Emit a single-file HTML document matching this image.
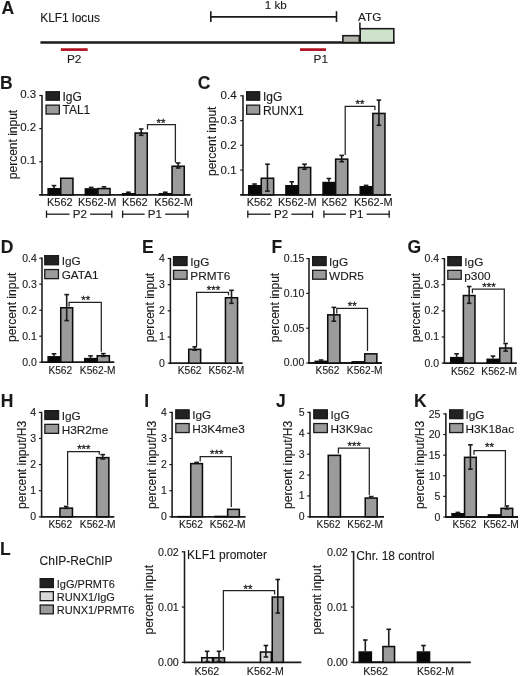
<!DOCTYPE html>
<html><head><meta charset="utf-8"><title>Figure</title>
<style>
html,body{margin:0;padding:0;background:#fff;}
body{width:520px;height:676px;overflow:hidden;font-family:"Liberation Sans",sans-serif;}
svg{display:block;font-family:"Liberation Sans",sans-serif;filter:blur(0.4px);}
text{stroke:#1a1a1a;stroke-width:0.12px;}
</style></head><body>
<svg width="520" height="676" viewBox="0 0 520 676">
<rect x="0" y="0" width="520" height="676" fill="#ffffff"/>
<text x="1.6" y="13.75" font-size="17.5" text-anchor="start" font-weight="bold" fill="#1a1a1a">A</text>
<text x="40.2" y="22.3" font-size="11.95" text-anchor="start" font-weight="normal" fill="#1a1a1a">KLF1 locus</text>
<line x1="40.4" y1="42.6" x2="394.6" y2="42.6" stroke="#1a1a1a" stroke-width="2.5" stroke-linecap="butt"/>
<line x1="60.8" y1="49.6" x2="87.7" y2="49.6" stroke="#b0121e" stroke-width="2.7" stroke-linecap="butt"/>
<text x="74.2" y="63.3" font-size="11.8" text-anchor="middle" font-weight="normal" fill="#1a1a1a">P2</text>
<line x1="300" y1="49.6" x2="326" y2="49.6" stroke="#b0121e" stroke-width="2.7" stroke-linecap="butt"/>
<text x="320.8" y="63.3" font-size="11.8" text-anchor="middle" font-weight="normal" fill="#1a1a1a">P1</text>
<line x1="210.8" y1="16.9" x2="336.5" y2="16.9" stroke="#1a1a1a" stroke-width="1.7" stroke-linecap="butt"/>
<line x1="210.8" y1="11.2" x2="210.8" y2="21.9" stroke="#1a1a1a" stroke-width="1.6" stroke-linecap="butt"/>
<line x1="336.5" y1="11.2" x2="336.5" y2="21.9" stroke="#1a1a1a" stroke-width="1.6" stroke-linecap="butt"/>
<text x="275.8" y="9.2" font-size="11.6" text-anchor="middle" font-weight="normal" fill="#1a1a1a">1 kb</text>
<rect x="342.9" y="35.7" width="16.5" height="6.9" fill="#b4b5ac" stroke="#1a1a1a" stroke-width="1.6"/>
<rect x="360.2" y="28.7" width="33.6" height="13.9" fill="#cfe2cc" stroke="#1a1a1a" stroke-width="1.6"/>
<line x1="359.9" y1="22.4" x2="359.9" y2="29.5" stroke="#1a1a1a" stroke-width="1.5" stroke-linecap="butt"/>
<text x="358" y="20.9" font-size="11.8" text-anchor="start" font-weight="normal" fill="#1a1a1a">ATG</text>
<text x="0" y="88.75" font-size="17.5" text-anchor="start" font-weight="bold" fill="#1a1a1a">B</text>
<line x1="42" y1="94.9" x2="42" y2="195.8" stroke="#1a1a1a" stroke-width="1.55" stroke-linecap="butt"/>
<line x1="39.1" y1="194.9" x2="190.5" y2="194.9" stroke="#1a1a1a" stroke-width="1.8" stroke-linecap="butt"/>
<line x1="39.3" y1="95.5" x2="42" y2="95.5" stroke="#1a1a1a" stroke-width="1.2" stroke-linecap="butt"/>
<text x="36.2" y="98.12" font-size="11.5" text-anchor="end" font-weight="normal" fill="#1a1a1a">0.3</text>
<line x1="39.3" y1="128.6" x2="42" y2="128.6" stroke="#1a1a1a" stroke-width="1.2" stroke-linecap="butt"/>
<text x="36.2" y="131.22" font-size="11.5" text-anchor="end" font-weight="normal" fill="#1a1a1a">0.2</text>
<line x1="39.3" y1="161.8" x2="42" y2="161.8" stroke="#1a1a1a" stroke-width="1.2" stroke-linecap="butt"/>
<text x="36.2" y="164.42" font-size="11.5" text-anchor="end" font-weight="normal" fill="#1a1a1a">0.1</text>
<text transform="translate(17 144.5) rotate(-90)" font-size="12" text-anchor="middle" fill="#1a1a1a">percent input</text>
<rect x="46.05" y="91.75" width="13.3" height="8.45" fill="#222222" stroke="#1a1a1a" stroke-width="1.3"/>
<text x="62.5" y="100.55" font-size="12" text-anchor="start" font-weight="normal" fill="#1a1a1a">IgG</text>
<rect x="46.05" y="105.15" width="13.3" height="8.9" fill="#9b9b9b" stroke="#1a1a1a" stroke-width="1.3"/>
<text x="62.5" y="114.4" font-size="12" text-anchor="start" font-weight="normal" fill="#1a1a1a">TAL1</text>
<rect x="48.15" y="188.75" width="11.7" height="6.15" fill="#080808" stroke="#0c0c0c" stroke-width="1.55"/>
<line x1="54" y1="185.6" x2="54" y2="188" stroke="#1a1a1a" stroke-width="1.6" stroke-linecap="butt"/>
<line x1="51.7" y1="185.6" x2="56.3" y2="185.6" stroke="#1a1a1a" stroke-width="1.6" stroke-linecap="butt"/>
<rect x="60.75" y="178.25" width="12.2" height="16.65" fill="#9b9b9b" stroke="#0c0c0c" stroke-width="1.55"/>
<rect x="85.35" y="188.95" width="11.7" height="5.95" fill="#080808" stroke="#0c0c0c" stroke-width="1.55"/>
<line x1="91.2" y1="187.4" x2="91.2" y2="188.2" stroke="#1a1a1a" stroke-width="1.6" stroke-linecap="butt"/>
<line x1="88.9" y1="187.4" x2="93.5" y2="187.4" stroke="#1a1a1a" stroke-width="1.6" stroke-linecap="butt"/>
<rect x="97.95" y="188.55" width="12.1" height="6.35" fill="#9b9b9b" stroke="#0c0c0c" stroke-width="1.55"/>
<line x1="104" y1="186.8" x2="104" y2="187.8" stroke="#1a1a1a" stroke-width="1.6" stroke-linecap="butt"/>
<line x1="101.7" y1="186.8" x2="106.3" y2="186.8" stroke="#1a1a1a" stroke-width="1.6" stroke-linecap="butt"/>
<rect x="122.55" y="193.75" width="11.7" height="1.15" fill="#080808" stroke="#0c0c0c" stroke-width="1.55"/>
<line x1="128.4" y1="192.2" x2="128.4" y2="193" stroke="#1a1a1a" stroke-width="1.6" stroke-linecap="butt"/>
<line x1="126.1" y1="192.2" x2="130.7" y2="192.2" stroke="#1a1a1a" stroke-width="1.6" stroke-linecap="butt"/>
<rect x="135.15" y="133.05" width="12.1" height="61.85" fill="#9b9b9b" stroke="#0c0c0c" stroke-width="1.55"/>
<line x1="141.2" y1="129" x2="141.2" y2="135.3" stroke="#1a1a1a" stroke-width="1.6" stroke-linecap="butt"/>
<line x1="138.9" y1="129" x2="143.5" y2="129" stroke="#1a1a1a" stroke-width="1.6" stroke-linecap="butt"/>
<line x1="138.9" y1="135.3" x2="143.5" y2="135.3" stroke="#1a1a1a" stroke-width="1.6" stroke-linecap="butt"/>
<rect x="159.45" y="193.75" width="11.7" height="1.15" fill="#080808" stroke="#0c0c0c" stroke-width="1.55"/>
<line x1="165.3" y1="192.2" x2="165.3" y2="193" stroke="#1a1a1a" stroke-width="1.6" stroke-linecap="butt"/>
<line x1="163" y1="192.2" x2="167.6" y2="192.2" stroke="#1a1a1a" stroke-width="1.6" stroke-linecap="butt"/>
<rect x="172.05" y="166.25" width="12.2" height="28.65" fill="#9b9b9b" stroke="#0c0c0c" stroke-width="1.55"/>
<line x1="178.15" y1="163" x2="178.15" y2="168" stroke="#1a1a1a" stroke-width="1.6" stroke-linecap="butt"/>
<line x1="175.85" y1="163" x2="180.45" y2="163" stroke="#1a1a1a" stroke-width="1.6" stroke-linecap="butt"/>
<line x1="175.85" y1="168" x2="180.45" y2="168" stroke="#1a1a1a" stroke-width="1.6" stroke-linecap="butt"/>
<polyline points="147.5,129.6 147.5,124.5 175.4,124.5 175.4,162.6" fill="none" stroke="#232323" stroke-width="1.25"/>
<text x="161" y="126.8" font-size="11.4" text-anchor="middle" font-weight="normal" fill="#232323" style="stroke-width:0.3px">**</text>
<text x="59.8" y="206.1" font-size="11" text-anchor="middle" font-weight="normal" fill="#1a1a1a">K562</text>
<text x="97.2" y="206.1" font-size="11" text-anchor="middle" font-weight="normal" fill="#1a1a1a">K562-M</text>
<text x="134.9" y="206.1" font-size="11" text-anchor="middle" font-weight="normal" fill="#1a1a1a">K562</text>
<text x="173.6" y="206.1" font-size="11" text-anchor="middle" font-weight="normal" fill="#1a1a1a">K562-M</text>
<line x1="46.5" y1="214.2" x2="69.5" y2="214.2" stroke="#1a1a1a" stroke-width="1.3" stroke-linecap="butt"/>
<line x1="90.1" y1="214.2" x2="111.8" y2="214.2" stroke="#1a1a1a" stroke-width="1.3" stroke-linecap="butt"/>
<line x1="46.5" y1="210.6" x2="46.5" y2="217.8" stroke="#1a1a1a" stroke-width="1.3" stroke-linecap="butt"/>
<line x1="111.8" y1="210.6" x2="111.8" y2="217.8" stroke="#1a1a1a" stroke-width="1.3" stroke-linecap="butt"/>
<text x="79.8" y="218.3" font-size="11.6" text-anchor="middle" font-weight="normal" fill="#1a1a1a">P2</text>
<line x1="122.6" y1="214.2" x2="144.6" y2="214.2" stroke="#1a1a1a" stroke-width="1.3" stroke-linecap="butt"/>
<line x1="165.2" y1="214.2" x2="188" y2="214.2" stroke="#1a1a1a" stroke-width="1.3" stroke-linecap="butt"/>
<line x1="122.6" y1="210.6" x2="122.6" y2="217.8" stroke="#1a1a1a" stroke-width="1.3" stroke-linecap="butt"/>
<line x1="188" y1="210.6" x2="188" y2="217.8" stroke="#1a1a1a" stroke-width="1.3" stroke-linecap="butt"/>
<text x="154.9" y="218.3" font-size="11.6" text-anchor="middle" font-weight="normal" fill="#1a1a1a">P1</text>
<text x="197.8" y="88.75" font-size="17.5" text-anchor="start" font-weight="bold" fill="#1a1a1a">C</text>
<line x1="243" y1="95.2" x2="243" y2="195.8" stroke="#1a1a1a" stroke-width="1.55" stroke-linecap="butt"/>
<line x1="240.1" y1="194.9" x2="391" y2="194.9" stroke="#1a1a1a" stroke-width="1.8" stroke-linecap="butt"/>
<line x1="240.3" y1="95.8" x2="243" y2="95.8" stroke="#1a1a1a" stroke-width="1.2" stroke-linecap="butt"/>
<text x="236.6" y="99.32" font-size="11.5" text-anchor="end" font-weight="normal" fill="#1a1a1a">0.4</text>
<line x1="240.3" y1="120.6" x2="243" y2="120.6" stroke="#1a1a1a" stroke-width="1.2" stroke-linecap="butt"/>
<text x="236.6" y="124.12" font-size="11.5" text-anchor="end" font-weight="normal" fill="#1a1a1a">0.3</text>
<line x1="240.3" y1="145.3" x2="243" y2="145.3" stroke="#1a1a1a" stroke-width="1.2" stroke-linecap="butt"/>
<text x="236.6" y="148.82" font-size="11.5" text-anchor="end" font-weight="normal" fill="#1a1a1a">0.2</text>
<line x1="240.3" y1="170.1" x2="243" y2="170.1" stroke="#1a1a1a" stroke-width="1.2" stroke-linecap="butt"/>
<text x="236.6" y="173.62" font-size="11.5" text-anchor="end" font-weight="normal" fill="#1a1a1a">0.1</text>
<text transform="translate(215.9 141.3) rotate(-90)" font-size="12" text-anchor="middle" fill="#1a1a1a">percent input</text>
<rect x="246.65" y="91.75" width="13" height="8.45" fill="#222222" stroke="#1a1a1a" stroke-width="1.3"/>
<text x="262.9" y="100.55" font-size="12" text-anchor="start" font-weight="normal" fill="#1a1a1a">IgG</text>
<rect x="246.65" y="105.15" width="13" height="9.1" fill="#9b9b9b" stroke="#1a1a1a" stroke-width="1.3"/>
<text x="262.9" y="114.6" font-size="12" text-anchor="start" font-weight="normal" fill="#1a1a1a">RUNX1</text>
<rect x="248.75" y="185.75" width="11.6" height="9.15" fill="#080808" stroke="#0c0c0c" stroke-width="1.55"/>
<line x1="254.55" y1="184" x2="254.55" y2="185" stroke="#1a1a1a" stroke-width="1.6" stroke-linecap="butt"/>
<line x1="252.25" y1="184" x2="256.85" y2="184" stroke="#1a1a1a" stroke-width="1.6" stroke-linecap="butt"/>
<rect x="261.25" y="178.25" width="12.4" height="16.65" fill="#9b9b9b" stroke="#0c0c0c" stroke-width="1.55"/>
<line x1="267.45" y1="164.2" x2="267.45" y2="191.1" stroke="#1a1a1a" stroke-width="1.6" stroke-linecap="butt"/>
<line x1="265.15" y1="164.2" x2="269.75" y2="164.2" stroke="#1a1a1a" stroke-width="1.6" stroke-linecap="butt"/>
<line x1="265.15" y1="191.1" x2="269.75" y2="191.1" stroke="#1a1a1a" stroke-width="1.6" stroke-linecap="butt"/>
<rect x="285.95" y="185.75" width="11.6" height="9.15" fill="#080808" stroke="#0c0c0c" stroke-width="1.55"/>
<line x1="291.75" y1="181.8" x2="291.75" y2="185" stroke="#1a1a1a" stroke-width="1.6" stroke-linecap="butt"/>
<line x1="289.45" y1="181.8" x2="294.05" y2="181.8" stroke="#1a1a1a" stroke-width="1.6" stroke-linecap="butt"/>
<rect x="298.45" y="167.45" width="12.2" height="27.45" fill="#9b9b9b" stroke="#0c0c0c" stroke-width="1.55"/>
<line x1="304.55" y1="164.2" x2="304.55" y2="169.2" stroke="#1a1a1a" stroke-width="1.6" stroke-linecap="butt"/>
<line x1="302.25" y1="164.2" x2="306.85" y2="164.2" stroke="#1a1a1a" stroke-width="1.6" stroke-linecap="butt"/>
<line x1="302.25" y1="169.2" x2="306.85" y2="169.2" stroke="#1a1a1a" stroke-width="1.6" stroke-linecap="butt"/>
<rect x="323.05" y="182.55" width="11.7" height="12.35" fill="#080808" stroke="#0c0c0c" stroke-width="1.55"/>
<line x1="328.9" y1="178.5" x2="328.9" y2="181.8" stroke="#1a1a1a" stroke-width="1.6" stroke-linecap="butt"/>
<line x1="326.6" y1="178.5" x2="331.2" y2="178.5" stroke="#1a1a1a" stroke-width="1.6" stroke-linecap="butt"/>
<rect x="335.65" y="159.15" width="12.1" height="35.75" fill="#9b9b9b" stroke="#0c0c0c" stroke-width="1.55"/>
<line x1="341.7" y1="155.4" x2="341.7" y2="161.7" stroke="#1a1a1a" stroke-width="1.6" stroke-linecap="butt"/>
<line x1="339.4" y1="155.4" x2="344" y2="155.4" stroke="#1a1a1a" stroke-width="1.6" stroke-linecap="butt"/>
<line x1="339.4" y1="161.7" x2="344" y2="161.7" stroke="#1a1a1a" stroke-width="1.6" stroke-linecap="butt"/>
<rect x="360.25" y="186.75" width="11.7" height="8.15" fill="#080808" stroke="#0c0c0c" stroke-width="1.55"/>
<line x1="366.1" y1="185.4" x2="366.1" y2="186" stroke="#1a1a1a" stroke-width="1.6" stroke-linecap="butt"/>
<line x1="363.8" y1="185.4" x2="368.4" y2="185.4" stroke="#1a1a1a" stroke-width="1.6" stroke-linecap="butt"/>
<rect x="372.85" y="113.45" width="12.1" height="81.45" fill="#9b9b9b" stroke="#0c0c0c" stroke-width="1.55"/>
<line x1="378.9" y1="100.1" x2="378.9" y2="125.3" stroke="#1a1a1a" stroke-width="1.6" stroke-linecap="butt"/>
<line x1="376.6" y1="100.1" x2="381.2" y2="100.1" stroke="#1a1a1a" stroke-width="1.6" stroke-linecap="butt"/>
<line x1="376.6" y1="125.3" x2="381.2" y2="125.3" stroke="#1a1a1a" stroke-width="1.6" stroke-linecap="butt"/>
<polyline points="345.2,154.9 345.2,106.4 374.9,106.4 374.9,110.2" fill="none" stroke="#232323" stroke-width="1.25"/>
<text x="360" y="108.2" font-size="11.4" text-anchor="middle" font-weight="normal" fill="#232323" style="stroke-width:0.3px">**</text>
<text x="259.5" y="206.1" font-size="11" text-anchor="middle" font-weight="normal" fill="#1a1a1a">K562</text>
<text x="297.3" y="206.1" font-size="11" text-anchor="middle" font-weight="normal" fill="#1a1a1a">K562-M</text>
<text x="334.3" y="206.1" font-size="11" text-anchor="middle" font-weight="normal" fill="#1a1a1a">K562</text>
<text x="373.3" y="206.1" font-size="11" text-anchor="middle" font-weight="normal" fill="#1a1a1a">K562-M</text>
<line x1="247.8" y1="214.2" x2="270.7" y2="214.2" stroke="#1a1a1a" stroke-width="1.3" stroke-linecap="butt"/>
<line x1="291.3" y1="214.2" x2="312.6" y2="214.2" stroke="#1a1a1a" stroke-width="1.3" stroke-linecap="butt"/>
<line x1="247.8" y1="210.6" x2="247.8" y2="217.8" stroke="#1a1a1a" stroke-width="1.3" stroke-linecap="butt"/>
<line x1="312.6" y1="210.6" x2="312.6" y2="217.8" stroke="#1a1a1a" stroke-width="1.3" stroke-linecap="butt"/>
<text x="281" y="218.3" font-size="11.6" text-anchor="middle" font-weight="normal" fill="#1a1a1a">P2</text>
<line x1="323.9" y1="214.2" x2="346" y2="214.2" stroke="#1a1a1a" stroke-width="1.3" stroke-linecap="butt"/>
<line x1="366.6" y1="214.2" x2="389.2" y2="214.2" stroke="#1a1a1a" stroke-width="1.3" stroke-linecap="butt"/>
<line x1="323.9" y1="210.6" x2="323.9" y2="217.8" stroke="#1a1a1a" stroke-width="1.3" stroke-linecap="butt"/>
<line x1="389.2" y1="210.6" x2="389.2" y2="217.8" stroke="#1a1a1a" stroke-width="1.3" stroke-linecap="butt"/>
<text x="356.3" y="218.3" font-size="11.6" text-anchor="middle" font-weight="normal" fill="#1a1a1a">P1</text>
<text x="0.7" y="252.75" font-size="17.5" text-anchor="start" font-weight="bold" fill="#1a1a1a">D</text>
<line x1="42" y1="257.6" x2="42" y2="363.1" stroke="#1a1a1a" stroke-width="1.55" stroke-linecap="butt"/>
<line x1="41.15" y1="362.2" x2="114.3" y2="362.2" stroke="#1a1a1a" stroke-width="1.8" stroke-linecap="butt"/>
<line x1="39.3" y1="362.2" x2="42" y2="362.2" stroke="#1a1a1a" stroke-width="1.2" stroke-linecap="butt"/>
<text x="36.75" y="365.66" font-size="10.5" text-anchor="end" font-weight="normal" fill="#1a1a1a">0.0</text>
<line x1="39.3" y1="336.2" x2="42" y2="336.2" stroke="#1a1a1a" stroke-width="1.2" stroke-linecap="butt"/>
<text x="36.75" y="339.66" font-size="10.5" text-anchor="end" font-weight="normal" fill="#1a1a1a">0.1</text>
<line x1="39.3" y1="310.2" x2="42" y2="310.2" stroke="#1a1a1a" stroke-width="1.2" stroke-linecap="butt"/>
<text x="36.75" y="313.66" font-size="10.5" text-anchor="end" font-weight="normal" fill="#1a1a1a">0.2</text>
<line x1="39.3" y1="284.2" x2="42" y2="284.2" stroke="#1a1a1a" stroke-width="1.2" stroke-linecap="butt"/>
<text x="36.75" y="287.66" font-size="10.5" text-anchor="end" font-weight="normal" fill="#1a1a1a">0.3</text>
<line x1="39.3" y1="258.2" x2="42" y2="258.2" stroke="#1a1a1a" stroke-width="1.2" stroke-linecap="butt"/>
<text x="36.75" y="261.66" font-size="10.5" text-anchor="end" font-weight="normal" fill="#1a1a1a">0.4</text>
<text transform="translate(15.9 307.3) rotate(-90)" font-size="12" text-anchor="middle" fill="#1a1a1a">percent input</text>
<rect x="44.75" y="255.65" width="13.7" height="9.1" fill="#222222" stroke="#1a1a1a" stroke-width="1.3"/>
<text x="61.7" y="265.1" font-size="11.8" text-anchor="start" font-weight="normal" fill="#1a1a1a">IgG</text>
<rect x="44.75" y="269.55" width="13.7" height="9.1" fill="#9b9b9b" stroke="#1a1a1a" stroke-width="1.3"/>
<text x="61.7" y="279" font-size="11.8" text-anchor="start" font-weight="normal" fill="#1a1a1a">GATA1</text>
<rect x="48.15" y="356.85" width="11.7" height="5.35" fill="#080808" stroke="#0c0c0c" stroke-width="1.55"/>
<line x1="54" y1="353.8" x2="54" y2="356.1" stroke="#1a1a1a" stroke-width="1.6" stroke-linecap="butt"/>
<line x1="51.7" y1="353.8" x2="56.3" y2="353.8" stroke="#1a1a1a" stroke-width="1.6" stroke-linecap="butt"/>
<rect x="60.75" y="307.75" width="11.9" height="54.45" fill="#9b9b9b" stroke="#0c0c0c" stroke-width="1.55"/>
<line x1="66.7" y1="294.6" x2="66.7" y2="320.6" stroke="#1a1a1a" stroke-width="1.6" stroke-linecap="butt"/>
<line x1="64.4" y1="294.6" x2="69" y2="294.6" stroke="#1a1a1a" stroke-width="1.6" stroke-linecap="butt"/>
<line x1="64.4" y1="320.6" x2="69" y2="320.6" stroke="#1a1a1a" stroke-width="1.6" stroke-linecap="butt"/>
<rect x="84.75" y="358.65" width="11.6" height="3.55" fill="#080808" stroke="#0c0c0c" stroke-width="1.55"/>
<line x1="90.55" y1="355.9" x2="90.55" y2="357.9" stroke="#1a1a1a" stroke-width="1.6" stroke-linecap="butt"/>
<line x1="88.25" y1="355.9" x2="92.85" y2="355.9" stroke="#1a1a1a" stroke-width="1.6" stroke-linecap="butt"/>
<rect x="97.25" y="355.75" width="12.1" height="6.45" fill="#9b9b9b" stroke="#0c0c0c" stroke-width="1.55"/>
<line x1="103.3" y1="353.6" x2="103.3" y2="356.4" stroke="#1a1a1a" stroke-width="1.6" stroke-linecap="butt"/>
<line x1="101" y1="353.6" x2="105.6" y2="353.6" stroke="#1a1a1a" stroke-width="1.6" stroke-linecap="butt"/>
<line x1="101" y1="356.4" x2="105.6" y2="356.4" stroke="#1a1a1a" stroke-width="1.6" stroke-linecap="butt"/>
<polyline points="69.1,306.6 69.1,302.3 101.3,302.3 101.3,351.8" fill="none" stroke="#232323" stroke-width="1.25"/>
<text x="85.8" y="304.2" font-size="11.4" text-anchor="middle" font-weight="normal" fill="#232323" style="stroke-width:0.3px">**</text>
<text x="60.3" y="374.4" font-size="10.2" text-anchor="middle" font-weight="normal" fill="#1a1a1a">K562</text>
<text x="97.7" y="374.4" font-size="10.2" text-anchor="middle" font-weight="normal" fill="#1a1a1a">K562-M</text>
<text x="142" y="252.75" font-size="17.5" text-anchor="start" font-weight="bold" fill="#1a1a1a">E</text>
<line x1="170.4" y1="257.9" x2="170.4" y2="364.1" stroke="#1a1a1a" stroke-width="1.55" stroke-linecap="butt"/>
<line x1="169.55" y1="363.2" x2="242.6" y2="363.2" stroke="#1a1a1a" stroke-width="1.8" stroke-linecap="butt"/>
<line x1="167.7" y1="363.2" x2="170.4" y2="363.2" stroke="#1a1a1a" stroke-width="1.2" stroke-linecap="butt"/>
<text x="164.8" y="366.66" font-size="10.5" text-anchor="end" font-weight="normal" fill="#1a1a1a">0</text>
<line x1="167.7" y1="337.02" x2="170.4" y2="337.02" stroke="#1a1a1a" stroke-width="1.2" stroke-linecap="butt"/>
<text x="164.8" y="340.48" font-size="10.5" text-anchor="end" font-weight="normal" fill="#1a1a1a">1</text>
<line x1="167.7" y1="310.85" x2="170.4" y2="310.85" stroke="#1a1a1a" stroke-width="1.2" stroke-linecap="butt"/>
<text x="164.8" y="314.31" font-size="10.5" text-anchor="end" font-weight="normal" fill="#1a1a1a">2</text>
<line x1="167.7" y1="284.68" x2="170.4" y2="284.68" stroke="#1a1a1a" stroke-width="1.2" stroke-linecap="butt"/>
<text x="164.8" y="288.13" font-size="10.5" text-anchor="end" font-weight="normal" fill="#1a1a1a">3</text>
<line x1="167.7" y1="258.5" x2="170.4" y2="258.5" stroke="#1a1a1a" stroke-width="1.2" stroke-linecap="butt"/>
<text x="164.8" y="261.96" font-size="10.5" text-anchor="end" font-weight="normal" fill="#1a1a1a">4</text>
<text transform="translate(153.5 307.5) rotate(-90)" font-size="12" text-anchor="middle" fill="#1a1a1a">percent input</text>
<rect x="173.5" y="256.65" width="13.55" height="8.85" fill="#222222" stroke="#1a1a1a" stroke-width="1.3"/>
<text x="190.3" y="265.85" font-size="11.8" text-anchor="start" font-weight="normal" fill="#1a1a1a">IgG</text>
<rect x="173.5" y="270.35" width="13.55" height="8.85" fill="#9b9b9b" stroke="#1a1a1a" stroke-width="1.3"/>
<text x="190.3" y="279.55" font-size="11.8" text-anchor="start" font-weight="normal" fill="#1a1a1a">PRMT6</text>
<rect x="188.75" y="349.35" width="11.9" height="13.85" fill="#9b9b9b" stroke="#0c0c0c" stroke-width="1.55"/>
<line x1="194.7" y1="346.8" x2="194.7" y2="350.2" stroke="#1a1a1a" stroke-width="1.6" stroke-linecap="butt"/>
<line x1="192.4" y1="346.8" x2="197" y2="346.8" stroke="#1a1a1a" stroke-width="1.6" stroke-linecap="butt"/>
<line x1="192.4" y1="350.2" x2="197" y2="350.2" stroke="#1a1a1a" stroke-width="1.6" stroke-linecap="butt"/>
<rect x="225.45" y="297.75" width="12.1" height="65.45" fill="#9b9b9b" stroke="#0c0c0c" stroke-width="1.55"/>
<line x1="231.5" y1="290.3" x2="231.5" y2="303.3" stroke="#1a1a1a" stroke-width="1.6" stroke-linecap="butt"/>
<line x1="229.2" y1="290.3" x2="233.8" y2="290.3" stroke="#1a1a1a" stroke-width="1.6" stroke-linecap="butt"/>
<line x1="229.2" y1="303.3" x2="233.8" y2="303.3" stroke="#1a1a1a" stroke-width="1.6" stroke-linecap="butt"/>
<polyline points="196.6,346.6 196.6,292.3 228.5,292.3 228.5,295.3" fill="none" stroke="#232323" stroke-width="1.25"/>
<text x="213.5" y="294.2" font-size="11.4" text-anchor="middle" font-weight="normal" fill="#232323" style="stroke-width:0.3px">***</text>
<text x="189.6" y="374.4" font-size="10.2" text-anchor="middle" font-weight="normal" fill="#1a1a1a">K562</text>
<text x="226.4" y="374.4" font-size="10.2" text-anchor="middle" font-weight="normal" fill="#1a1a1a">K562-M</text>
<text x="271.4" y="252.75" font-size="17.5" text-anchor="start" font-weight="bold" fill="#1a1a1a">F</text>
<line x1="309" y1="258" x2="309" y2="363.9" stroke="#1a1a1a" stroke-width="1.55" stroke-linecap="butt"/>
<line x1="308.15" y1="363" x2="381.9" y2="363" stroke="#1a1a1a" stroke-width="1.8" stroke-linecap="butt"/>
<line x1="306.3" y1="363" x2="309" y2="363" stroke="#1a1a1a" stroke-width="1.2" stroke-linecap="butt"/>
<text x="304.3" y="366.46" font-size="10.5" text-anchor="end" font-weight="normal" fill="#1a1a1a">0.00</text>
<line x1="306.3" y1="328.2" x2="309" y2="328.2" stroke="#1a1a1a" stroke-width="1.2" stroke-linecap="butt"/>
<text x="304.3" y="331.66" font-size="10.5" text-anchor="end" font-weight="normal" fill="#1a1a1a">0.05</text>
<line x1="306.3" y1="293.4" x2="309" y2="293.4" stroke="#1a1a1a" stroke-width="1.2" stroke-linecap="butt"/>
<text x="304.3" y="296.86" font-size="10.5" text-anchor="end" font-weight="normal" fill="#1a1a1a">0.10</text>
<line x1="306.3" y1="258.6" x2="309" y2="258.6" stroke="#1a1a1a" stroke-width="1.2" stroke-linecap="butt"/>
<text x="304.3" y="262.06" font-size="10.5" text-anchor="end" font-weight="normal" fill="#1a1a1a">0.15</text>
<text transform="translate(278.7 307.5) rotate(-90)" font-size="12" text-anchor="middle" fill="#1a1a1a">percent input</text>
<rect x="312.65" y="256.65" width="13.5" height="8.85" fill="#222222" stroke="#1a1a1a" stroke-width="1.3"/>
<text x="329.1" y="265.85" font-size="11.8" text-anchor="start" font-weight="normal" fill="#1a1a1a">IgG</text>
<rect x="312.65" y="270.35" width="13.5" height="8.85" fill="#9b9b9b" stroke="#1a1a1a" stroke-width="1.3"/>
<text x="329.1" y="279.55" font-size="11.8" text-anchor="start" font-weight="normal" fill="#1a1a1a">WDR5</text>
<rect x="315.25" y="361.35" width="11.6" height="1.65" fill="#080808" stroke="#0c0c0c" stroke-width="1.55"/>
<line x1="321.05" y1="360" x2="321.05" y2="360.6" stroke="#1a1a1a" stroke-width="1.6" stroke-linecap="butt"/>
<line x1="318.75" y1="360" x2="323.35" y2="360" stroke="#1a1a1a" stroke-width="1.6" stroke-linecap="butt"/>
<rect x="327.75" y="314.85" width="12.2" height="48.15" fill="#9b9b9b" stroke="#0c0c0c" stroke-width="1.55"/>
<line x1="333.85" y1="307.4" x2="333.85" y2="321.2" stroke="#1a1a1a" stroke-width="1.6" stroke-linecap="butt"/>
<line x1="331.55" y1="307.4" x2="336.15" y2="307.4" stroke="#1a1a1a" stroke-width="1.6" stroke-linecap="butt"/>
<line x1="331.55" y1="321.2" x2="336.15" y2="321.2" stroke="#1a1a1a" stroke-width="1.6" stroke-linecap="butt"/>
<rect x="352.15" y="361.85" width="11.7" height="1.15" fill="#080808" stroke="#0c0c0c" stroke-width="1.55"/>
<rect x="364.75" y="353.85" width="12.1" height="9.15" fill="#9b9b9b" stroke="#0c0c0c" stroke-width="1.55"/>
<polyline points="336.8,313.4 336.8,308.4 367.5,308.4 367.5,351.1" fill="none" stroke="#232323" stroke-width="1.25"/>
<text x="352.3" y="310.4" font-size="11.4" text-anchor="middle" font-weight="normal" fill="#232323" style="stroke-width:0.3px">**</text>
<text x="327.5" y="374.4" font-size="10.2" text-anchor="middle" font-weight="normal" fill="#1a1a1a">K562</text>
<text x="364.7" y="374.4" font-size="10.2" text-anchor="middle" font-weight="normal" fill="#1a1a1a">K562-M</text>
<text x="407.5" y="253.3" font-size="17.5" text-anchor="start" font-weight="bold" fill="#1a1a1a">G</text>
<line x1="444.4" y1="258" x2="444.4" y2="364" stroke="#1a1a1a" stroke-width="1.55" stroke-linecap="butt"/>
<line x1="443.55" y1="363.1" x2="516.9" y2="363.1" stroke="#1a1a1a" stroke-width="1.8" stroke-linecap="butt"/>
<line x1="441.7" y1="363.1" x2="444.4" y2="363.1" stroke="#1a1a1a" stroke-width="1.2" stroke-linecap="butt"/>
<text x="439.1" y="366.56" font-size="10.5" text-anchor="end" font-weight="normal" fill="#1a1a1a">0.0</text>
<line x1="441.7" y1="336.98" x2="444.4" y2="336.98" stroke="#1a1a1a" stroke-width="1.2" stroke-linecap="butt"/>
<text x="439.1" y="340.43" font-size="10.5" text-anchor="end" font-weight="normal" fill="#1a1a1a">0.1</text>
<line x1="441.7" y1="310.85" x2="444.4" y2="310.85" stroke="#1a1a1a" stroke-width="1.2" stroke-linecap="butt"/>
<text x="439.1" y="314.31" font-size="10.5" text-anchor="end" font-weight="normal" fill="#1a1a1a">0.2</text>
<line x1="441.7" y1="284.73" x2="444.4" y2="284.73" stroke="#1a1a1a" stroke-width="1.2" stroke-linecap="butt"/>
<text x="439.1" y="288.18" font-size="10.5" text-anchor="end" font-weight="normal" fill="#1a1a1a">0.3</text>
<line x1="441.7" y1="258.6" x2="444.4" y2="258.6" stroke="#1a1a1a" stroke-width="1.2" stroke-linecap="butt"/>
<text x="439.1" y="262.06" font-size="10.5" text-anchor="end" font-weight="normal" fill="#1a1a1a">0.4</text>
<text transform="translate(420.2 307.5) rotate(-90)" font-size="12" text-anchor="middle" fill="#1a1a1a">percent input</text>
<rect x="447.8" y="256.65" width="13.45" height="9" fill="#222222" stroke="#1a1a1a" stroke-width="1.3"/>
<text x="464.3" y="266" font-size="11.8" text-anchor="start" font-weight="normal" fill="#1a1a1a">IgG</text>
<rect x="447.8" y="270.35" width="13.45" height="8.85" fill="#9b9b9b" stroke="#1a1a1a" stroke-width="1.3"/>
<text x="464.3" y="279.55" font-size="11.8" text-anchor="start" font-weight="normal" fill="#1a1a1a">p300</text>
<rect x="450.75" y="357.65" width="11.7" height="5.45" fill="#080808" stroke="#0c0c0c" stroke-width="1.55"/>
<line x1="456.6" y1="353.8" x2="456.6" y2="356.9" stroke="#1a1a1a" stroke-width="1.6" stroke-linecap="butt"/>
<line x1="454.3" y1="353.8" x2="458.9" y2="353.8" stroke="#1a1a1a" stroke-width="1.6" stroke-linecap="butt"/>
<rect x="463.35" y="295.55" width="11.6" height="67.55" fill="#9b9b9b" stroke="#0c0c0c" stroke-width="1.55"/>
<line x1="469.15" y1="286.5" x2="469.15" y2="303.3" stroke="#1a1a1a" stroke-width="1.6" stroke-linecap="butt"/>
<line x1="466.85" y1="286.5" x2="471.45" y2="286.5" stroke="#1a1a1a" stroke-width="1.6" stroke-linecap="butt"/>
<line x1="466.85" y1="303.3" x2="471.45" y2="303.3" stroke="#1a1a1a" stroke-width="1.6" stroke-linecap="butt"/>
<rect x="487.15" y="359.35" width="11.7" height="3.75" fill="#080808" stroke="#0c0c0c" stroke-width="1.55"/>
<line x1="493" y1="356.1" x2="493" y2="358.6" stroke="#1a1a1a" stroke-width="1.6" stroke-linecap="butt"/>
<line x1="490.7" y1="356.1" x2="495.3" y2="356.1" stroke="#1a1a1a" stroke-width="1.6" stroke-linecap="butt"/>
<rect x="499.75" y="348.05" width="11.7" height="15.05" fill="#9b9b9b" stroke="#0c0c0c" stroke-width="1.55"/>
<line x1="505.6" y1="343.5" x2="505.6" y2="351.1" stroke="#1a1a1a" stroke-width="1.6" stroke-linecap="butt"/>
<line x1="503.3" y1="343.5" x2="507.9" y2="343.5" stroke="#1a1a1a" stroke-width="1.6" stroke-linecap="butt"/>
<line x1="503.3" y1="351.1" x2="507.9" y2="351.1" stroke="#1a1a1a" stroke-width="1.6" stroke-linecap="butt"/>
<polyline points="472.4,293.3 472.4,289 504.3,289 504.3,342.5" fill="none" stroke="#232323" stroke-width="1.25"/>
<text x="489" y="291.2" font-size="11.4" text-anchor="middle" font-weight="normal" fill="#232323" style="stroke-width:0.3px">***</text>
<text x="462.8" y="374.8" font-size="10.2" text-anchor="middle" font-weight="normal" fill="#1a1a1a">K562</text>
<text x="499.2" y="374.8" font-size="10.2" text-anchor="middle" font-weight="normal" fill="#1a1a1a">K562-M</text>
<text x="0.7" y="406.75" font-size="17.5" text-anchor="start" font-weight="bold" fill="#1a1a1a">H</text>
<line x1="41.6" y1="411.8" x2="41.6" y2="517.7" stroke="#1a1a1a" stroke-width="1.55" stroke-linecap="butt"/>
<line x1="40.75" y1="516.8" x2="114.3" y2="516.8" stroke="#1a1a1a" stroke-width="1.8" stroke-linecap="butt"/>
<line x1="38.9" y1="516.8" x2="41.6" y2="516.8" stroke="#1a1a1a" stroke-width="1.2" stroke-linecap="butt"/>
<text x="36" y="520.26" font-size="10.5" text-anchor="end" font-weight="normal" fill="#1a1a1a">0</text>
<line x1="38.9" y1="490.7" x2="41.6" y2="490.7" stroke="#1a1a1a" stroke-width="1.2" stroke-linecap="butt"/>
<text x="36" y="494.16" font-size="10.5" text-anchor="end" font-weight="normal" fill="#1a1a1a">1</text>
<line x1="38.9" y1="464.6" x2="41.6" y2="464.6" stroke="#1a1a1a" stroke-width="1.2" stroke-linecap="butt"/>
<text x="36" y="468.06" font-size="10.5" text-anchor="end" font-weight="normal" fill="#1a1a1a">2</text>
<line x1="38.9" y1="438.5" x2="41.6" y2="438.5" stroke="#1a1a1a" stroke-width="1.2" stroke-linecap="butt"/>
<text x="36" y="441.96" font-size="10.5" text-anchor="end" font-weight="normal" fill="#1a1a1a">3</text>
<line x1="38.9" y1="412.4" x2="41.6" y2="412.4" stroke="#1a1a1a" stroke-width="1.2" stroke-linecap="butt"/>
<text x="36" y="415.86" font-size="10.5" text-anchor="end" font-weight="normal" fill="#1a1a1a">4</text>
<text transform="translate(25.6 464.85) rotate(-90)" font-size="12" text-anchor="middle" fill="#1a1a1a">percent input/H3</text>
<rect x="44.85" y="410.65" width="13.7" height="8.8" fill="#222222" stroke="#1a1a1a" stroke-width="1.3"/>
<text x="61.7" y="419.8" font-size="11.8" text-anchor="start" font-weight="normal" fill="#1a1a1a">IgG</text>
<rect x="44.85" y="424.35" width="13.7" height="9" fill="#9b9b9b" stroke="#1a1a1a" stroke-width="1.3"/>
<text x="61.7" y="433.7" font-size="11.8" text-anchor="start" font-weight="normal" fill="#1a1a1a">H3R2me</text>
<rect x="59.95" y="508.15" width="12.5" height="8.65" fill="#9b9b9b" stroke="#0c0c0c" stroke-width="1.55"/>
<line x1="66.2" y1="506.4" x2="66.2" y2="508.4" stroke="#1a1a1a" stroke-width="1.6" stroke-linecap="butt"/>
<line x1="63.9" y1="506.4" x2="68.5" y2="506.4" stroke="#1a1a1a" stroke-width="1.6" stroke-linecap="butt"/>
<line x1="63.9" y1="508.4" x2="68.5" y2="508.4" stroke="#1a1a1a" stroke-width="1.6" stroke-linecap="butt"/>
<rect x="96.65" y="457.65" width="12.2" height="59.15" fill="#9b9b9b" stroke="#0c0c0c" stroke-width="1.55"/>
<line x1="102.75" y1="454.6" x2="102.75" y2="459" stroke="#1a1a1a" stroke-width="1.6" stroke-linecap="butt"/>
<line x1="100.45" y1="454.6" x2="105.05" y2="454.6" stroke="#1a1a1a" stroke-width="1.6" stroke-linecap="butt"/>
<line x1="100.45" y1="459" x2="105.05" y2="459" stroke="#1a1a1a" stroke-width="1.6" stroke-linecap="butt"/>
<polyline points="67.6,505 67.6,451.6 99.3,451.6 99.3,454.4" fill="none" stroke="#232323" stroke-width="1.25"/>
<text x="83.8" y="453.4" font-size="11.4" text-anchor="middle" font-weight="normal" fill="#232323" style="stroke-width:0.3px">***</text>
<text x="60.3" y="528.3" font-size="10.2" text-anchor="middle" font-weight="normal" fill="#1a1a1a">K562</text>
<text x="97.7" y="528.3" font-size="10.2" text-anchor="middle" font-weight="normal" fill="#1a1a1a">K562-M</text>
<text x="144.3" y="406.75" font-size="17.5" text-anchor="start" font-weight="bold" fill="#1a1a1a">I</text>
<line x1="172.1" y1="411.8" x2="172.1" y2="517.7" stroke="#1a1a1a" stroke-width="1.55" stroke-linecap="butt"/>
<line x1="171.25" y1="516.8" x2="245.6" y2="516.8" stroke="#1a1a1a" stroke-width="1.8" stroke-linecap="butt"/>
<line x1="169.4" y1="516.8" x2="172.1" y2="516.8" stroke="#1a1a1a" stroke-width="1.2" stroke-linecap="butt"/>
<text x="166.8" y="520.26" font-size="10.5" text-anchor="end" font-weight="normal" fill="#1a1a1a">0</text>
<line x1="169.4" y1="490.7" x2="172.1" y2="490.7" stroke="#1a1a1a" stroke-width="1.2" stroke-linecap="butt"/>
<text x="166.8" y="494.16" font-size="10.5" text-anchor="end" font-weight="normal" fill="#1a1a1a">1</text>
<line x1="169.4" y1="464.6" x2="172.1" y2="464.6" stroke="#1a1a1a" stroke-width="1.2" stroke-linecap="butt"/>
<text x="166.8" y="468.06" font-size="10.5" text-anchor="end" font-weight="normal" fill="#1a1a1a">2</text>
<line x1="169.4" y1="438.5" x2="172.1" y2="438.5" stroke="#1a1a1a" stroke-width="1.2" stroke-linecap="butt"/>
<text x="166.8" y="441.96" font-size="10.5" text-anchor="end" font-weight="normal" fill="#1a1a1a">3</text>
<line x1="169.4" y1="412.4" x2="172.1" y2="412.4" stroke="#1a1a1a" stroke-width="1.2" stroke-linecap="butt"/>
<text x="166.8" y="415.86" font-size="10.5" text-anchor="end" font-weight="normal" fill="#1a1a1a">4</text>
<text transform="translate(155.8 464.85) rotate(-90)" font-size="12" text-anchor="middle" fill="#1a1a1a">percent input/H3</text>
<rect x="175.8" y="409.85" width="13.35" height="8.8" fill="#222222" stroke="#1a1a1a" stroke-width="1.3"/>
<text x="192.25" y="419" font-size="11.8" text-anchor="start" font-weight="normal" fill="#1a1a1a">IgG</text>
<rect x="175.8" y="423.55" width="13.35" height="9" fill="#9b9b9b" stroke="#1a1a1a" stroke-width="1.3"/>
<text x="192.25" y="432.9" font-size="11.8" text-anchor="start" font-weight="normal" fill="#1a1a1a">H3K4me3</text>
<rect x="178.15" y="516.65" width="11.7" height="0.15" fill="#080808" stroke="#0c0c0c" stroke-width="1.55"/>
<rect x="190.75" y="463.65" width="11.7" height="53.15" fill="#9b9b9b" stroke="#0c0c0c" stroke-width="1.55"/>
<line x1="196.6" y1="462.4" x2="196.6" y2="462.9" stroke="#1a1a1a" stroke-width="1.6" stroke-linecap="butt"/>
<line x1="194.3" y1="462.4" x2="198.9" y2="462.4" stroke="#1a1a1a" stroke-width="1.6" stroke-linecap="butt"/>
<rect x="215.15" y="516.45" width="11.6" height="0.35" fill="#080808" stroke="#0c0c0c" stroke-width="1.55"/>
<rect x="227.65" y="509.35" width="11.7" height="7.45" fill="#9b9b9b" stroke="#0c0c0c" stroke-width="1.55"/>
<polyline points="200.2,461.6 200.2,456.6 231.3,456.6 231.3,506.9" fill="none" stroke="#232323" stroke-width="1.25"/>
<text x="216.7" y="457.8" font-size="11.4" text-anchor="middle" font-weight="normal" fill="#232323" style="stroke-width:0.3px">***</text>
<text x="191" y="528.3" font-size="10.2" text-anchor="middle" font-weight="normal" fill="#1a1a1a">K562</text>
<text x="227.7" y="528.3" font-size="10.2" text-anchor="middle" font-weight="normal" fill="#1a1a1a">K562-M</text>
<text x="275.9" y="406.75" font-size="17.5" text-anchor="start" font-weight="bold" fill="#1a1a1a">J</text>
<line x1="310" y1="411.8" x2="310" y2="517.7" stroke="#1a1a1a" stroke-width="1.55" stroke-linecap="butt"/>
<line x1="309.15" y1="516.8" x2="384" y2="516.8" stroke="#1a1a1a" stroke-width="1.8" stroke-linecap="butt"/>
<line x1="307.3" y1="516.8" x2="310" y2="516.8" stroke="#1a1a1a" stroke-width="1.2" stroke-linecap="butt"/>
<text x="304.55" y="520.26" font-size="10.5" text-anchor="end" font-weight="normal" fill="#1a1a1a">0</text>
<line x1="307.3" y1="495.92" x2="310" y2="495.92" stroke="#1a1a1a" stroke-width="1.2" stroke-linecap="butt"/>
<text x="304.55" y="499.38" font-size="10.5" text-anchor="end" font-weight="normal" fill="#1a1a1a">1</text>
<line x1="307.3" y1="475.04" x2="310" y2="475.04" stroke="#1a1a1a" stroke-width="1.2" stroke-linecap="butt"/>
<text x="304.55" y="478.5" font-size="10.5" text-anchor="end" font-weight="normal" fill="#1a1a1a">2</text>
<line x1="307.3" y1="454.16" x2="310" y2="454.16" stroke="#1a1a1a" stroke-width="1.2" stroke-linecap="butt"/>
<text x="304.55" y="457.62" font-size="10.5" text-anchor="end" font-weight="normal" fill="#1a1a1a">3</text>
<line x1="307.3" y1="433.28" x2="310" y2="433.28" stroke="#1a1a1a" stroke-width="1.2" stroke-linecap="butt"/>
<text x="304.55" y="436.74" font-size="10.5" text-anchor="end" font-weight="normal" fill="#1a1a1a">4</text>
<line x1="307.3" y1="412.4" x2="310" y2="412.4" stroke="#1a1a1a" stroke-width="1.2" stroke-linecap="butt"/>
<text x="304.55" y="415.86" font-size="10.5" text-anchor="end" font-weight="normal" fill="#1a1a1a">5</text>
<text transform="translate(292.2 464.85) rotate(-90)" font-size="12" text-anchor="middle" fill="#1a1a1a">percent input/H3</text>
<rect x="313.8" y="409.85" width="13.55" height="8.8" fill="#222222" stroke="#1a1a1a" stroke-width="1.3"/>
<text x="330.6" y="419" font-size="11.8" text-anchor="start" font-weight="normal" fill="#1a1a1a">IgG</text>
<rect x="313.8" y="423.55" width="13.55" height="9" fill="#9b9b9b" stroke="#1a1a1a" stroke-width="1.3"/>
<text x="330.6" y="432.9" font-size="11.8" text-anchor="start" font-weight="normal" fill="#1a1a1a">H3K9ac</text>
<rect x="328.25" y="455.35" width="12.2" height="61.45" fill="#9b9b9b" stroke="#0c0c0c" stroke-width="1.55"/>
<rect x="365.25" y="498.05" width="11.9" height="18.75" fill="#9b9b9b" stroke="#0c0c0c" stroke-width="1.55"/>
<line x1="371.2" y1="496.6" x2="371.2" y2="497.3" stroke="#1a1a1a" stroke-width="1.6" stroke-linecap="butt"/>
<line x1="368.9" y1="496.6" x2="373.5" y2="496.6" stroke="#1a1a1a" stroke-width="1.6" stroke-linecap="butt"/>
<polyline points="338.4,453.6 338.4,448.2 369.3,448.2 369.3,495.2" fill="none" stroke="#232323" stroke-width="1.25"/>
<text x="354.2" y="450.2" font-size="11.4" text-anchor="middle" font-weight="normal" fill="#232323" style="stroke-width:0.3px">***</text>
<text x="328.5" y="528.3" font-size="10.2" text-anchor="middle" font-weight="normal" fill="#1a1a1a">K562</text>
<text x="365.2" y="528.3" font-size="10.2" text-anchor="middle" font-weight="normal" fill="#1a1a1a">K562-M</text>
<text x="414" y="406.75" font-size="17.5" text-anchor="start" font-weight="bold" fill="#1a1a1a">K</text>
<line x1="445.9" y1="413.3" x2="445.9" y2="517.9" stroke="#1a1a1a" stroke-width="1.55" stroke-linecap="butt"/>
<line x1="445.05" y1="517" x2="518.1" y2="517" stroke="#1a1a1a" stroke-width="1.8" stroke-linecap="butt"/>
<line x1="443.2" y1="517" x2="445.9" y2="517" stroke="#1a1a1a" stroke-width="1.2" stroke-linecap="butt"/>
<text x="440.4" y="520.86" font-size="10.5" text-anchor="end" font-weight="normal" fill="#1a1a1a">0</text>
<line x1="443.2" y1="496.38" x2="445.9" y2="496.38" stroke="#1a1a1a" stroke-width="1.2" stroke-linecap="butt"/>
<text x="440.4" y="500.24" font-size="10.5" text-anchor="end" font-weight="normal" fill="#1a1a1a">5</text>
<line x1="443.2" y1="475.76" x2="445.9" y2="475.76" stroke="#1a1a1a" stroke-width="1.2" stroke-linecap="butt"/>
<text x="440.4" y="479.62" font-size="10.5" text-anchor="end" font-weight="normal" fill="#1a1a1a">10</text>
<line x1="443.2" y1="455.14" x2="445.9" y2="455.14" stroke="#1a1a1a" stroke-width="1.2" stroke-linecap="butt"/>
<text x="440.4" y="459" font-size="10.5" text-anchor="end" font-weight="normal" fill="#1a1a1a">15</text>
<line x1="443.2" y1="434.52" x2="445.9" y2="434.52" stroke="#1a1a1a" stroke-width="1.2" stroke-linecap="butt"/>
<text x="440.4" y="438.38" font-size="10.5" text-anchor="end" font-weight="normal" fill="#1a1a1a">20</text>
<line x1="443.2" y1="413.9" x2="445.9" y2="413.9" stroke="#1a1a1a" stroke-width="1.2" stroke-linecap="butt"/>
<text x="440.4" y="417.76" font-size="10.5" text-anchor="end" font-weight="normal" fill="#1a1a1a">25</text>
<text transform="translate(424.2 464.85) rotate(-90)" font-size="12" text-anchor="middle" fill="#1a1a1a">percent input/H3</text>
<rect x="449.65" y="409.85" width="13.2" height="8.8" fill="#222222" stroke="#1a1a1a" stroke-width="1.3"/>
<text x="465.5" y="419" font-size="11.8" text-anchor="start" font-weight="normal" fill="#1a1a1a">IgG</text>
<rect x="449.65" y="423.55" width="13.2" height="9" fill="#9b9b9b" stroke="#1a1a1a" stroke-width="1.3"/>
<text x="465.5" y="432.9" font-size="11.8" text-anchor="start" font-weight="normal" fill="#1a1a1a">H3K18ac</text>
<rect x="452.05" y="513.75" width="11.6" height="3.05" fill="#080808" stroke="#0c0c0c" stroke-width="1.55"/>
<line x1="457.85" y1="512.4" x2="457.85" y2="513" stroke="#1a1a1a" stroke-width="1.6" stroke-linecap="butt"/>
<line x1="455.55" y1="512.4" x2="460.15" y2="512.4" stroke="#1a1a1a" stroke-width="1.6" stroke-linecap="butt"/>
<rect x="464.55" y="457.35" width="11.7" height="59.45" fill="#9b9b9b" stroke="#0c0c0c" stroke-width="1.55"/>
<line x1="470.4" y1="444.8" x2="470.4" y2="469.2" stroke="#1a1a1a" stroke-width="1.6" stroke-linecap="butt"/>
<line x1="468.1" y1="444.8" x2="472.7" y2="444.8" stroke="#1a1a1a" stroke-width="1.6" stroke-linecap="butt"/>
<line x1="468.1" y1="469.2" x2="472.7" y2="469.2" stroke="#1a1a1a" stroke-width="1.6" stroke-linecap="butt"/>
<rect x="488.45" y="514.95" width="11.7" height="1.85" fill="#080808" stroke="#0c0c0c" stroke-width="1.55"/>
<rect x="501.05" y="508.35" width="11.6" height="8.45" fill="#9b9b9b" stroke="#0c0c0c" stroke-width="1.55"/>
<line x1="506.85" y1="506" x2="506.85" y2="509" stroke="#1a1a1a" stroke-width="1.6" stroke-linecap="butt"/>
<line x1="504.55" y1="506" x2="509.15" y2="506" stroke="#1a1a1a" stroke-width="1.6" stroke-linecap="butt"/>
<line x1="504.55" y1="509" x2="509.15" y2="509" stroke="#1a1a1a" stroke-width="1.6" stroke-linecap="butt"/>
<polyline points="474,454.8 474,450.6 505.4,450.6 505.4,505.1" fill="none" stroke="#232323" stroke-width="1.25"/>
<text x="489.4" y="451.4" font-size="11.4" text-anchor="middle" font-weight="normal" fill="#232323" style="stroke-width:0.3px">**</text>
<text x="464.5" y="528.3" font-size="10.2" text-anchor="middle" font-weight="normal" fill="#1a1a1a">K562</text>
<text x="501" y="528.3" font-size="10.2" text-anchor="middle" font-weight="normal" fill="#1a1a1a">K562-M</text>
<text x="0.1" y="555" font-size="17.5" text-anchor="start" font-weight="bold" fill="#1a1a1a">L</text>
<text x="39.5" y="565.2" font-size="12.05" text-anchor="start" font-weight="normal" fill="#1a1a1a">ChIP-ReChIP</text>
<rect x="40.15" y="578.65" width="13.2" height="8.9" fill="#222222" stroke="#1a1a1a" stroke-width="1.3"/>
<text x="56.8" y="587.9" font-size="11" text-anchor="start" font-weight="normal" fill="#1a1a1a">IgG/PRMT6</text>
<rect x="40.15" y="591.65" width="13.2" height="9" fill="#d8d8d8" stroke="#1a1a1a" stroke-width="1.3"/>
<text x="56.8" y="601" font-size="11" text-anchor="start" font-weight="normal" fill="#1a1a1a">RUNX1/IgG</text>
<rect x="40.15" y="605.05" width="13.2" height="8.8" fill="#9b9b9b" stroke="#1a1a1a" stroke-width="1.3"/>
<text x="56.8" y="614.2" font-size="11" text-anchor="start" font-weight="normal" fill="#1a1a1a">RUNX1/PRMT6</text>
<line x1="184.5" y1="551.2" x2="184.5" y2="663.2" stroke="#1a1a1a" stroke-width="1.55" stroke-linecap="butt"/>
<line x1="183.65" y1="662.3" x2="301.3" y2="662.3" stroke="#1a1a1a" stroke-width="1.8" stroke-linecap="butt"/>
<line x1="181.8" y1="662.3" x2="184.5" y2="662.3" stroke="#1a1a1a" stroke-width="1.2" stroke-linecap="butt"/>
<text x="178.8" y="666.13" font-size="10.7" text-anchor="end" font-weight="normal" fill="#1a1a1a">0.00</text>
<line x1="181.8" y1="607.05" x2="184.5" y2="607.05" stroke="#1a1a1a" stroke-width="1.2" stroke-linecap="butt"/>
<text x="178.8" y="610.88" font-size="10.7" text-anchor="end" font-weight="normal" fill="#1a1a1a">0.01</text>
<line x1="181.8" y1="551.8" x2="184.5" y2="551.8" stroke="#1a1a1a" stroke-width="1.2" stroke-linecap="butt"/>
<text x="178.8" y="555.63" font-size="10.7" text-anchor="end" font-weight="normal" fill="#1a1a1a">0.02</text>
<text transform="translate(152.9 599.7) rotate(-90)" font-size="12" text-anchor="middle" fill="#1a1a1a">percent input</text>
<text x="187" y="559.3" font-size="12" text-anchor="start" font-weight="normal" fill="#1a1a1a">KLF1 promoter</text>
<rect x="190.45" y="662.35" width="10.4" height="-0.05" fill="#080808" stroke="#0c0c0c" stroke-width="1.55"/>
<rect x="201.75" y="657.75" width="10.8" height="4.55" fill="#d8d8d8" stroke="#0c0c0c" stroke-width="1.55"/>
<line x1="207.15" y1="651.3" x2="207.15" y2="661.6" stroke="#1a1a1a" stroke-width="1.6" stroke-linecap="butt"/>
<line x1="204.85" y1="651.3" x2="209.45" y2="651.3" stroke="#1a1a1a" stroke-width="1.6" stroke-linecap="butt"/>
<line x1="204.85" y1="661.6" x2="209.45" y2="661.6" stroke="#1a1a1a" stroke-width="1.6" stroke-linecap="butt"/>
<rect x="213.45" y="657.75" width="11.1" height="4.55" fill="#9b9b9b" stroke="#0c0c0c" stroke-width="1.55"/>
<line x1="219" y1="651.3" x2="219" y2="661.6" stroke="#1a1a1a" stroke-width="1.6" stroke-linecap="butt"/>
<line x1="216.7" y1="651.3" x2="221.3" y2="651.3" stroke="#1a1a1a" stroke-width="1.6" stroke-linecap="butt"/>
<line x1="216.7" y1="661.6" x2="221.3" y2="661.6" stroke="#1a1a1a" stroke-width="1.6" stroke-linecap="butt"/>
<rect x="248.45" y="662.35" width="11.1" height="-0.05" fill="#080808" stroke="#0c0c0c" stroke-width="1.55"/>
<rect x="260.45" y="652.05" width="10.9" height="10.25" fill="#d8d8d8" stroke="#0c0c0c" stroke-width="1.55"/>
<line x1="265.9" y1="645.5" x2="265.9" y2="657" stroke="#1a1a1a" stroke-width="1.6" stroke-linecap="butt"/>
<line x1="263.6" y1="645.5" x2="268.2" y2="645.5" stroke="#1a1a1a" stroke-width="1.6" stroke-linecap="butt"/>
<line x1="263.6" y1="657" x2="268.2" y2="657" stroke="#1a1a1a" stroke-width="1.6" stroke-linecap="butt"/>
<rect x="272.25" y="597.05" width="11.1" height="65.25" fill="#9b9b9b" stroke="#0c0c0c" stroke-width="1.55"/>
<line x1="277.8" y1="579.5" x2="277.8" y2="613" stroke="#1a1a1a" stroke-width="1.6" stroke-linecap="butt"/>
<line x1="275.5" y1="579.5" x2="280.1" y2="579.5" stroke="#1a1a1a" stroke-width="1.6" stroke-linecap="butt"/>
<line x1="275.5" y1="613" x2="280.1" y2="613" stroke="#1a1a1a" stroke-width="1.6" stroke-linecap="butt"/>
<polyline points="223.4,650.6 223.4,590.6 274.6,590.6 274.6,594.5" fill="none" stroke="#232323" stroke-width="1.25"/>
<text x="248" y="592.6" font-size="11.4" text-anchor="middle" font-weight="normal" fill="#232323" style="stroke-width:0.3px">**</text>
<text x="206.9" y="674.6" font-size="10.6" text-anchor="middle" font-weight="normal" fill="#1a1a1a">K562</text>
<text x="265.4" y="674.6" font-size="10.6" text-anchor="middle" font-weight="normal" fill="#1a1a1a">K562-M</text>
<line x1="353.6" y1="551.2" x2="353.6" y2="663.2" stroke="#1a1a1a" stroke-width="1.55" stroke-linecap="butt"/>
<line x1="352.75" y1="662.3" x2="470.8" y2="662.3" stroke="#1a1a1a" stroke-width="1.8" stroke-linecap="butt"/>
<line x1="350.9" y1="662.3" x2="353.6" y2="662.3" stroke="#1a1a1a" stroke-width="1.2" stroke-linecap="butt"/>
<text x="347.8" y="666.13" font-size="10.7" text-anchor="end" font-weight="normal" fill="#1a1a1a">0.00</text>
<line x1="350.9" y1="607.05" x2="353.6" y2="607.05" stroke="#1a1a1a" stroke-width="1.2" stroke-linecap="butt"/>
<text x="347.8" y="610.88" font-size="10.7" text-anchor="end" font-weight="normal" fill="#1a1a1a">0.01</text>
<line x1="350.9" y1="551.8" x2="353.6" y2="551.8" stroke="#1a1a1a" stroke-width="1.2" stroke-linecap="butt"/>
<text x="347.8" y="555.63" font-size="10.7" text-anchor="end" font-weight="normal" fill="#1a1a1a">0.02</text>
<text transform="translate(320.6 599.7) rotate(-90)" font-size="12" text-anchor="middle" fill="#1a1a1a">percent input</text>
<text x="356.3" y="559.5" font-size="12" text-anchor="start" font-weight="normal" fill="#1a1a1a">Chr. 18 control</text>
<rect x="359.25" y="652.05" width="12.1" height="10.25" fill="#080808" stroke="#0c0c0c" stroke-width="1.55"/>
<line x1="365.3" y1="640" x2="365.3" y2="651.3" stroke="#1a1a1a" stroke-width="1.6" stroke-linecap="butt"/>
<line x1="363" y1="640" x2="367.6" y2="640" stroke="#1a1a1a" stroke-width="1.6" stroke-linecap="butt"/>
<rect x="372.25" y="662.15" width="9.8" height="0.15" fill="#d8d8d8" stroke="#0c0c0c" stroke-width="1.55"/>
<rect x="382.95" y="646.55" width="11.6" height="15.75" fill="#9b9b9b" stroke="#0c0c0c" stroke-width="1.55"/>
<line x1="388.75" y1="629.3" x2="388.75" y2="645.8" stroke="#1a1a1a" stroke-width="1.6" stroke-linecap="butt"/>
<line x1="386.45" y1="629.3" x2="391.05" y2="629.3" stroke="#1a1a1a" stroke-width="1.6" stroke-linecap="butt"/>
<rect x="417.45" y="652.05" width="12.1" height="10.25" fill="#080808" stroke="#0c0c0c" stroke-width="1.55"/>
<line x1="423.5" y1="645.5" x2="423.5" y2="651.3" stroke="#1a1a1a" stroke-width="1.6" stroke-linecap="butt"/>
<line x1="421.2" y1="645.5" x2="425.8" y2="645.5" stroke="#1a1a1a" stroke-width="1.6" stroke-linecap="butt"/>
<text x="375.6" y="674.6" font-size="10.6" text-anchor="middle" font-weight="normal" fill="#1a1a1a">K562</text>
<text x="435.6" y="674.6" font-size="10.6" text-anchor="middle" font-weight="normal" fill="#1a1a1a">K562-M</text>
</svg>
</body></html>
